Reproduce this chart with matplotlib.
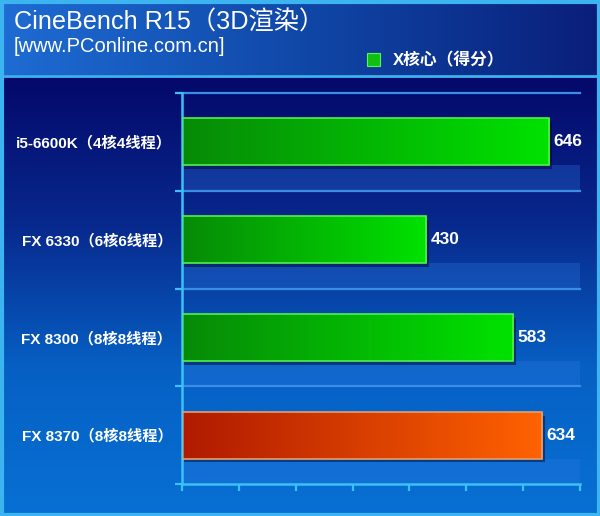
"""CineBench R15 (3D rendering) multi-core scores, PConline style bar chart."""

import matplotlib

matplotlib.use("Agg")
import matplotlib.pyplot as plt
import numpy as np
from matplotlib.colors import LinearSegmentedColormap

plt.rcParams["font.family"] = ["Liberation Sans", "Noto Sans CJK SC", "DejaVu Sans"]

# data (top to bottom as in the chart)
cpus = [
    "i5-6600K（4核4线程）",
    "FX 6330（6核6线程）",
    "FX 8300（8核8线程）",
    "FX 8370（8核8线程）",
]
scores = [646, 430, 583, 634]
is_highlight = [False, False, False, True]
x_ticks = [0, 100, 200, 300, 400, 500, 600, 700]

title = "CineBench R15（3D渲染）"
subtitle = "[www.PConline.com.cn]"
legend_label = "X核心（得分）"

W, H = 600, 516
fig = plt.figure(figsize=(W / 100, H / 100), dpi=100)

# --- background: header gradient + chart-area gradient ---
bg = fig.add_axes([0, 0, 1, 1], zorder=-10)
bg.set_xlim(0, W)
bg.set_ylim(H, 0)
bg.axis("off")
header_cmap = LinearSegmentedColormap.from_list("hdr", ["#1e6cd4", "#1048a8", "#0a1e7a"])
bg.imshow(np.linspace(0, 1, 256)[None, :], cmap=header_cmap, aspect="auto",
          extent=[0, W, 75, 0])
body_cmap = LinearSegmentedColormap.from_list("body", ["#04086a", "#08288c", "#0660c4", "#0870d4"])
bg.imshow(np.linspace(0, 1, 256)[:, None], cmap=body_cmap, aspect="auto",
          extent=[0, W, H, 75])
bg.axhline(75.5, color="#3cb4f0", lw=2)
bg.add_patch(plt.Rectangle((1.5, 1.5), W - 3, H - 3, fill=False, ec="#3cb4f0", lw=3))

# --- main axes ---
ax = fig.add_axes([182 / W, 1 - 484 / H, (580 - 182) / W, (484 - 93) / H])
ax.patch.set_alpha(0)
ypos = np.arange(len(cpus))[::-1]
bar_h = 0.48

# lighter floor band under each bar
for y in ypos:
    ax.axhspan(y - 0.5, y - bar_h / 2, color="#2c78e0", alpha=0.3, lw=0, zorder=0)

green_cmap = LinearSegmentedColormap.from_list("g", ["#078a07", "#00e200"])
red_cmap = LinearSegmentedColormap.from_list("r", ["#b01a00", "#ff6200"])

bars = ax.barh(ypos, scores, height=bar_h, color="none", zorder=3,
               edgecolor=["#e0a070" if h else "#50f050" for h in is_highlight],
               linewidth=1.2)
grad = np.linspace(0, 1, 256)[None, :]
for bar, hl in zip(bars, is_highlight):
    x0, y0 = bar.get_x(), bar.get_y()
    # drop shadow
    ax.add_patch(plt.Rectangle((x0 + 4, y0 - 0.04), bar.get_width(), bar.get_height(),
                               color="#000020", alpha=0.45, lw=0, zorder=2))
    im = ax.imshow(grad, cmap=red_cmap if hl else green_cmap, aspect="auto",
                   extent=[x0, x0 + bar.get_width(), y0, y0 + bar.get_height()],
                   zorder=2.5)
    im.set_clip_path(bar)

ax.bar_label(bars, labels=[str(s) for s in scores], padding=3, color="white",
             fontsize=12.5, fontweight="bold", zorder=5)

ax.set_xlim(0, 700)
ax.set_ylim(-0.5, len(cpus) - 0.5)
ax.set_aspect("auto")

# grid lines at category boundaries
for b in np.arange(len(cpus)) + 0.5:
    ax.axhline(b, color="#3a8ee6", lw=1.6, zorder=1, clip_on=False)

ax.set_yticks(np.arange(len(cpus) + 1) - 0.5)
ax.set_yticklabels([])
ax.set_yticks(ypos, cpus, minor=True)
ax.tick_params(axis="y", which="minor", length=0, pad=7, labelcolor="white",
               labelsize=11)
for lab in ax.get_yticklabels(minor=True):
    lab.set_fontweight("bold")
ax.tick_params(axis="y", which="major", length=5, width=1.6, color="#3cc0f8")
ax.set_xticks(x_ticks)
ax.set_xticklabels([])
ax.tick_params(axis="x", length=5, width=1.6, color="#3cc0f8", direction="out")

for s in ("top", "right"):
    ax.spines[s].set_visible(False)
for s in ("left", "bottom"):
    ax.spines[s].set_color("#3cc0f8")
    ax.spines[s].set_linewidth(1.8)

# --- header texts ---
fig.text(14 / W, 1 - 23 / H, title, color="white", fontsize=18.2, va="center",
         ha="left")
fig.text(14 / W, 1 - 47 / H, subtitle, color="white", fontsize=14.5, va="center",
         ha="left")
bg.add_patch(plt.Rectangle((367, 53), 13, 13, color="#10c010", ec="#60f060", lw=0.8))
fig.text(393 / W, 1 - 60 / H, legend_label, color="white", fontsize=12.1,
         fontweight="bold", va="center", ha="left")

fig.savefig("out.png", dpi=100)
